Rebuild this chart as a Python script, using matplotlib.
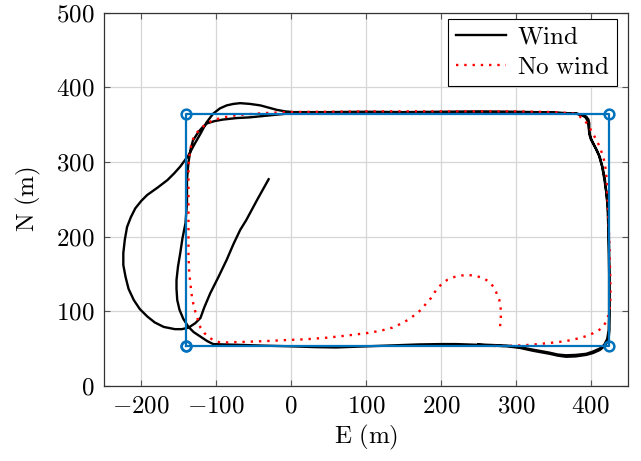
import matplotlib
matplotlib.use('Agg')
import matplotlib.pyplot as plt

plt.rcParams['font.family'] = ['Liberation Serif', 'DejaVu Serif']
plt.rcParams['mathtext.fontset'] = 'cm'

# waypoints (E, N)
wp_e = [-140, 425, 425, -140, -140]
wp_n = [53, 53, 365, 365, 53]

# path flown with wind
wind_e = [-30, -45, -60, -68, -77, -86, -97, -108, -116, -121, -128, -137,
          -146, -155, -170, -182, -192, -202, -210, -217, -221, -224, -224, -222, -219, -214,
          -208, -200, -192, -178, -165, -156, -148, -137, -129, -121, -113, -104, -95, -86,
          -77, -68, -55, -41, -30, -19, -8, 3,
          50, 100, 150, 200, 250, 300, 350, 381,
          388, 394, 397, 398, 398, 398, 400, 403, 408, 412, 416, 419, 421, 423, 424, 424.5,
          425, 425, 425, 425, 424, 421, 417, 412, 403, 394, 380, 367, 356, 345, 334, 323, 305, 288,
          250, 220, 200, 170, 130, 100, 60, 30, 0, -40, -70, -90, -104,
          -112, -121, -130, -137, -144, -149, -152, -153, -153, -151, -148, -145, -141, -139,
          -139, -137, -134, -131, -124, -118, -112, -102, -91, -73, -55, -30, -5, 30,
          100, 200, 300, 350, 380,
          388, 393, 396, 397, 398, 401, 406, 411, 415, 418, 421, 422.5, 423.5, 424, 424.5,
          424.5, 424.5, 424, 422, 418, 412, 403, 394, 380, 367, 356, 345, 323, 305, 288, 250]
wind_n = [277, 250, 222, 209, 190, 169, 146, 124, 105, 91, 84, 78,
          76, 76, 79, 85, 93, 103, 115, 130, 146, 162, 178, 196, 213, 226,
          238, 248, 256, 266, 276, 285, 294, 309, 324, 338, 353, 365, 372, 376,
          378, 379, 378, 376, 373, 370, 368, 367,
          367, 367.5, 367, 367.5, 368, 367.5, 366.5, 365,
          363.5, 361, 357, 352, 345, 338, 331, 325, 316, 307, 292, 276, 258, 240, 214, 187,
          150, 120, 95, 75, 65, 57, 52, 48, 44, 41.5, 39.5, 39, 40.5, 43, 45, 47, 51, 53,
          55, 56, 56, 55.5, 54, 53, 51.5, 52, 53, 54, 55, 55.5, 56,
          60, 66, 72, 79, 90, 102, 115, 130, 142, 160, 178, 198, 218, 245,
          276, 300, 318, 329, 340, 347, 352, 355, 357, 359, 360, 362.5, 365, 366,
          366, 366.5, 366.5, 366, 365,
          363, 360, 355, 348, 340, 330, 320, 309, 295, 278, 258, 240, 210, 180, 150,
          120, 95, 75, 63, 55, 50, 46, 43, 41.5, 41, 42, 44.5, 48.5, 52, 54, 55.5]

# path flown without wind
calm_e = [279, 280, 280, 278, 274, 270, 264, 255, 244, 236, 228, 218, 209, 203, 198, 192,
          187, 180, 173.5, 165, 157, 146, 135, 120, 103, 75, 48, 20, -6.5, -35, -61, -80,
          -94, -101, -105, -111, -116, -121, -124, -128, -132, -134, -136, -137, -137, -137,
          -137, -135, -132, -127, -121, -113, -105, -90, -72, -40, -6.5, 50, 100, 200, 300,
          350, 375, 383, 392, 398, 403, 408, 412, 416, 419, 421, 422, 423.5, 425, 426, 426.5,
          425.5, 424.5, 421, 416.5, 410, 403, 395, 385, 372, 359, 340, 319, 300, 288, 270]
calm_n = [80, 92, 102, 115, 125, 133, 140, 145, 148, 148.5, 148, 146, 142.5, 138, 133.6, 126,
          118, 110, 102, 95, 89, 83, 78, 74, 71, 67.5, 64.6, 62.5, 61.4, 60, 59, 58.5,
          58, 60, 62, 66, 71, 78, 87, 100, 116, 133, 151, 175, 205, 250,
          294, 315, 329, 338, 345, 351, 356, 360, 363, 365.5, 367, 367.5, 368, 368, 368,
          367, 365.5, 363, 356, 347, 338, 329, 320.5, 309, 298, 280, 262.5, 230, 187, 150, 120,
          105, 97, 87, 79, 74, 70.5, 67, 64, 61, 59, 57, 55, 54, 53.5, 53.5]

xticks = [-200, -100, 0, 100, 200, 300, 400]
yticks = [0, 100, 200, 300, 400, 500]

fig = plt.figure(figsize=(6.41, 4.61), dpi=100)
ax = fig.add_axes([0.162, 0.163, 0.818, 0.809])

ax.plot(wind_e, wind_n, color='black', lw=1.7, label=r'$\mathrm{Wind}$', zorder=3)
ax.plot(calm_e, calm_n, color='red', lw=1.7, ls=(0, (1, 2.5)), label=r'$\mathrm{No\ wind}$', zorder=4)
ax.plot(wp_e, wp_n, color='#0072BD', lw=1.6, marker='o', ms=7, mfc='none', mew=1.8, zorder=5)

ax.set_xlim(-250, 450)
ax.set_ylim(0, 500)
ax.set_xticks(xticks)
ax.set_yticks(yticks)
ax.set_xticklabels([f'${v}$' for v in xticks])
ax.set_yticklabels([f'${v}$' for v in yticks])
ax.grid(True, color='#d6d6d6', lw=0.9)
ax.set_axisbelow(True)
ax.tick_params(direction='in', top=True, right=True, length=4, width=0.8, color='#555555',
               labelsize=18, pad=7)
for s in ax.spines.values():
    s.set_color('#333333')
    s.set_linewidth(0.9)

ax.set_xlabel(r'$\mathrm{E\ (m)}$', fontsize=18, labelpad=4)
ax.set_ylabel(r'$\mathrm{N\ (m)}$', fontsize=18, labelpad=9)

leg = ax.legend(loc='upper right', bbox_to_anchor=(0.979, 0.984), borderaxespad=0, fontsize=18,
                fancybox=False, framealpha=1, edgecolor='black', borderpad=0.3, handlelength=2.0,
                handletextpad=0.45, labelspacing=0.3)
leg.get_frame().set_linewidth(0.8)

plt.savefig('out.png', dpi=100)
